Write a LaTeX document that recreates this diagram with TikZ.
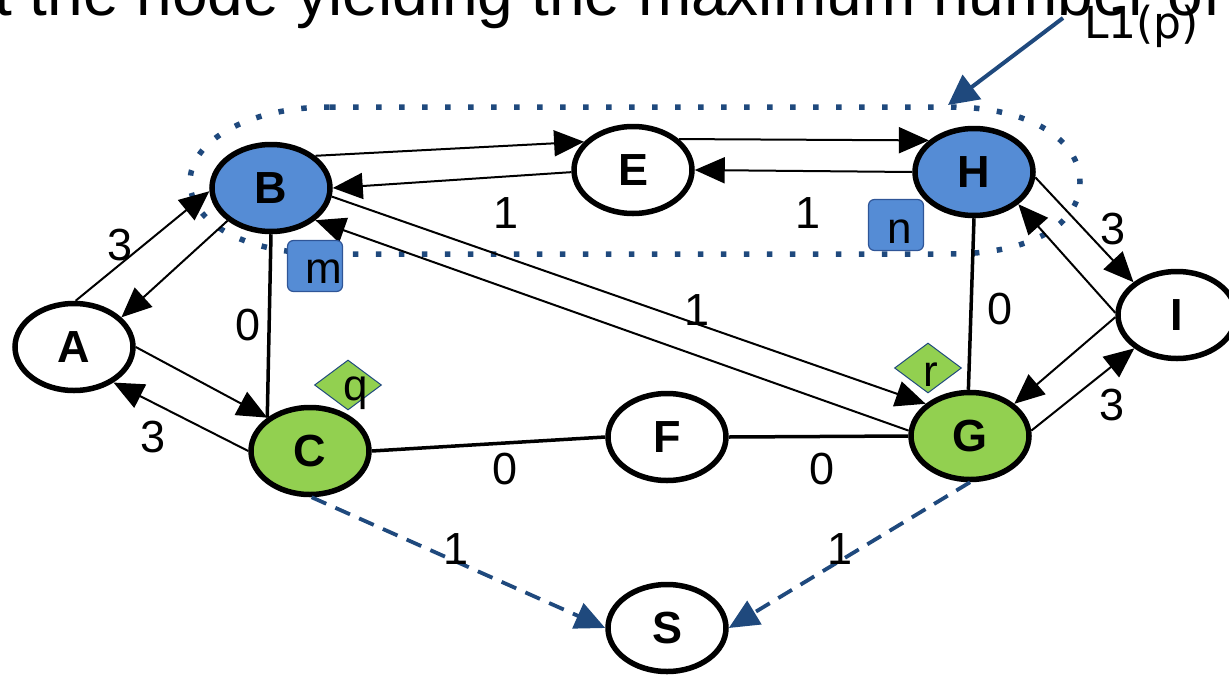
\documentclass[tikz,border=0pt]{standalone}
\usepackage{fontspec}
\setmainfont{Liberation Sans}
\newfontfamily\dejavu{DejaVu Sans}
\usetikzlibrary{arrows.meta,shapes.geometric}
\definecolor{nodeblue}{RGB}{85,140,213}
\definecolor{nodegreen}{RGB}{146,208,80}
\definecolor{navy}{RGB}{31,73,125}
\definecolor{tagedge}{RGB}{47,85,151}
\begin{document}
\begin{tikzpicture}[x=1pt,y=-1pt,
  vtx/.style={ellipse, draw=black, fill=white, line width=5.5pt,
    minimum width=118pt, minimum height=87pt, inner sep=0pt,
    font=\fontsize{45}{50}\selectfont\bfseries},
  blue vtx/.style={vtx, fill=nodeblue},
  green vtx/.style={vtx, fill=nodegreen},
  arc/.style={line width=2pt, -{Triangle[length=30pt,width=26pt]}},
  tie/.style={line width=3.5pt},
  dasharc/.style={draw=navy, line width=3.8pt, dash pattern=on 16pt off 10pt,
    -{Triangle[length=30pt,width=27pt]}},
  wt/.style={inner sep=0pt, font=\fontsize{45}{50}\selectfont},
  tagtext/.style={inner sep=0pt, anchor=base, font=\fontsize{44}{50}\selectfont},
  tag/.style={rectangle, rounded corners=6pt, fill=nodeblue, draw=tagedge,
    line width=1.2pt, minimum width=55pt, minimum height=51pt, inner sep=0pt},
  gem/.style={diamond, fill=nodegreen, draw=navy, line width=1pt,
    minimum width=67pt, minimum height=50pt, inner sep=0pt},
  group/.style={draw=navy, line width=5.5pt, dash pattern=on 5.5pt off 17.5pt}
]
\useasboundingbox (0,0) rectangle (1229,675);
\clip (0,0) rectangle (1229,675);

% heading line, cut by the top edge
\node[anchor=base west, inner sep=0pt, font=\fontsize{64}{70}\selectfont]
  (heading) at (-6,15) {t the node yielding the maximum number of};

% dotted group around B, E and H
\draw[group] (330,107) -- (950,107)
  .. controls (1030,107) and (1080,140) .. (1080,182)
  .. controls (1080,225) and (1030,254) .. (950,254)
  -- (330,254)
  .. controls (240,254) and (190,220) .. (190,182)
  .. controls (190,140) and (250,107) .. (330,107) -- cycle;

% vertices
\node[blue vtx]  (B) at (271,188) {B};
\node[vtx]       (E) at (633,170) {E};
\node[blue vtx]  (H) at (974,172) {H};
\node[vtx]       (I) at (1177,315) {I};
\node[vtx]       (A) at (74,347) {A};
\node[green vtx] (C) at (310,451) {C};
\node[vtx]       (F) at (667,437) {F};
\node[green vtx] (G) at (970,436) {G};
\node[vtx]       (S) at (667,628) {S};

% directed edges
\draw[arc] (B.36)  -- (E.150);
\draw[arc] (E.182) -- (B.0);
\draw[arc] (E.34)  -- (H.145);
\draw[arc] (H.180) -- (E.0);
\draw[arc] (B.217) -- (A.32);
\draw[arc] (A.88)  -- (B.183);
\draw[arc] (A.0)   -- (C.142);
\draw[arc] (C.180) -- (A.-42);
\draw[arc] (B.-8)  -- (G.144);
\draw[arc] (G.175) -- (B.-36);
\draw[arc] (H.-5)  -- (I.143);
\draw[arc] (I.178) -- (H.-36);
\draw[arc] (I.182) -- (G.36);
\draw[arc] (G.5)   -- (I.218);

% undirected edges
\draw[tie] (B.-90) -- (C.142);
\draw[tie] (C.0)   -- (F.180);
\draw[tie] (F.0)   -- (G.180);
\draw[tie] (H.-90) -- (G.92);

% dashed edges into S
\draw[dasharc] (C.-88) -- (S.180);
\draw[dasharc] (G.-90) -- (S.0);

% weights
\node[wt] (w1)  at (120,245) {3};
\node[wt] (w2)  at (248,325) {0};
\node[wt] (w3)  at (153,437) {3};
\node[wt] (w4)  at (506,213) {1};
\node[wt] (w5)  at (808,213) {1};
\node[wt] (w6)  at (697,310) {1};
\node[wt] (w7)  at (1000,309) {0};
\node[wt] (w8)  at (1113,229) {3};
\node[wt] (w9)  at (1112,405) {3};
\node[wt] (w10) at (505,469) {0};
\node[wt] (w11) at (822,469) {0};
\node[wt] (w12) at (456,549) {1};
\node[wt] (w13) at (840,549) {1};

% markers
\node[tag] (m) at (315,266) {};
\node[tagtext] (mt) at (324,283) {m};
\node[tag] (n) at (896,225) {};
\node[tagtext] (nt) at (900,243) {n};
\node[gem] (q) at (348,385) {};
\node[tagtext] (qt) at (356,400) {q};
\node[gem] (r) at (928,368) {};
\node[tagtext] (rt) at (931,386) {r};

% pointer to the group
\node[anchor=base west, inner sep=0pt, font=\dejavu\fontsize{44}{50}\selectfont]
  (lbl) at (1084,38) {L1(p)};
\coordinate (ptail) at (1063,18);
\coordinate (ptip) at (948,105);
\draw[navy, line width=4pt, -{Triangle[length=30pt,width=30pt]}] (ptail) -- (ptip);
\end{tikzpicture}
\end{document}
